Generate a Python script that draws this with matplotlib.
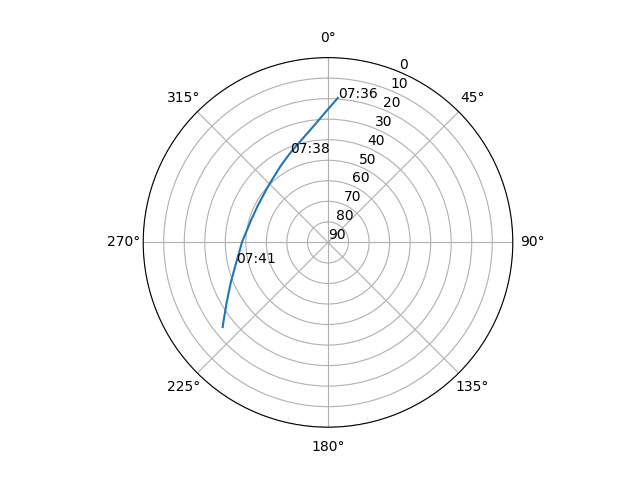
import numpy as np
import matplotlib
matplotlib.use("Agg")
import matplotlib.pyplot as plt

# satellite pass: azimuth (deg) and elevation (deg)
az = [3.9, 359.4, 353.1, 345.1, 337.4, 328.5, 313.9, 297.7, 286.0, 270.5, 257.3, 247.3, 239.2, 232.5, 231.2]
el = [19.5, 25.9, 32.8, 38.7, 42.6, 46.1, 49.9, 51.4, 51.0, 48.2, 44.1, 38.6, 32.5, 25.7, 24.2]
# time labels at some of the points
label_idx = [0, 4, 10]
label_txt = ["07:36", "07:38", "07:41"]

fig = plt.figure(figsize=(6.4, 4.8), dpi=100)
ax = fig.add_subplot(projection='polar')
ax.set_theta_zero_location('N')
ax.set_theta_direction(-1)

theta = np.radians(az)
ax.plot(theta, el)
for i, t in zip(label_idx, label_txt):
    ax.text(theta[i], el[i], t)

ax.set_rlim(90, 0)
ax.set_yticks(range(0, 91, 10))

fig.savefig("out.png")
